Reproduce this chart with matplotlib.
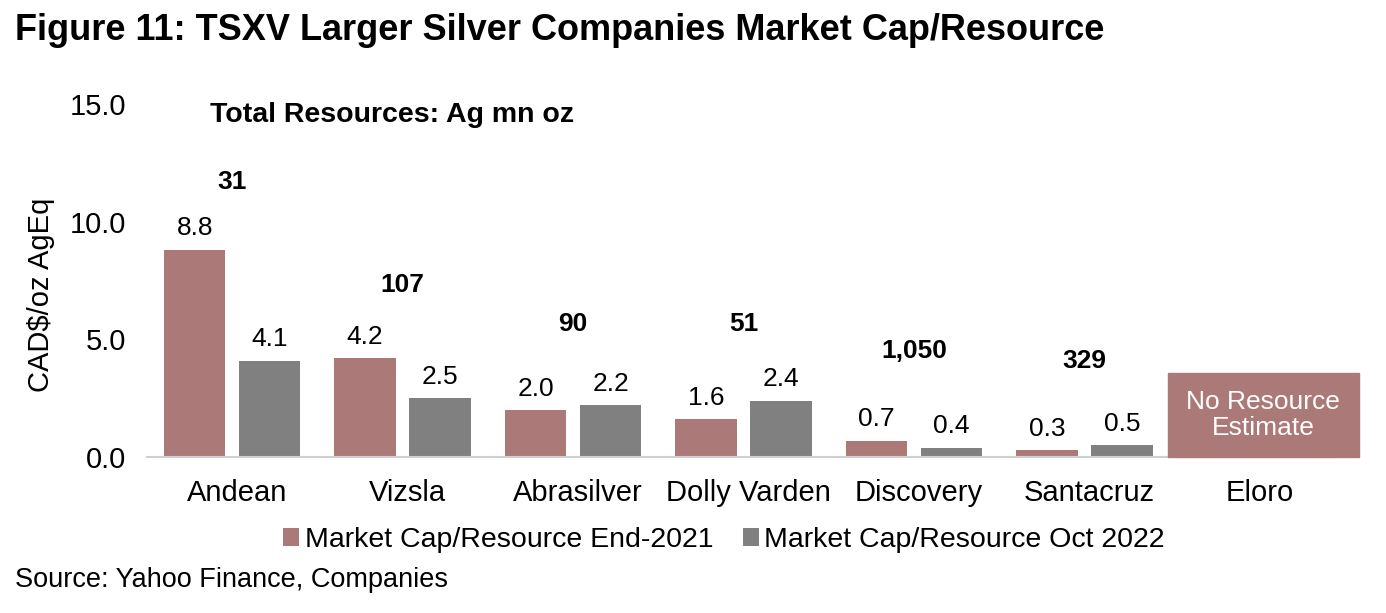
import numpy as np
import matplotlib.pyplot as plt
from matplotlib.patches import Rectangle

plt.rcParams['font.family'] = ['Liberation Sans', 'DejaVu Sans']

companies = ['Andean', 'Vizsla', 'Abrasilver', 'Dolly Varden', 'Discovery', 'Santacruz', 'Eloro']
end_2021 = [8.8, 4.2, 2.0, 1.6, 0.7, 0.3]
oct_2022 = [4.1, 2.5, 2.2, 2.4, 0.4, 0.5]
resources = ['31', '107', '90', '51', '1,050', '329']
resource_y = [11.7, 7.3, 5.65, 5.65, 4.5, 4.1]

red = '#AB7A78'
grey = '#808080'

fig = plt.figure(figsize=(13.86, 6.13), dpi=100)
ax = fig.add_axes([147/1386, 1-457/613, (1340-147)/1386, (457-104)/613])

x = np.arange(len(end_2021))
w = 0.36
off = 0.22
b1 = ax.bar(x - off, end_2021, w, color=red, label='Market Cap/Resource End-2021')
b2 = ax.bar(x + off, oct_2022, w, color=grey, label='Market Cap/Resource Oct 2022')
for bars, vals in ((b1, end_2021), (b2, oct_2022)):
    for b, v in zip(bars, vals):
        ax.text(b.get_x() + b.get_width()/2, v + 0.4, f'{v:.1f}', ha='center', va='bottom', fontsize=19)

for i, (r, yy) in enumerate(zip(resources, resource_y)):
    ax.text(i, yy, r, ha='center', va='center', fontsize=19, fontweight='bold')

# Eloro has no resource estimate
ax.add_patch(Rectangle((5.49, 0), 1.12, 3.57, color=red, clip_on=False, zorder=3))
ax.text(6.05, 1.8, 'No Resource\nEstimate', ha='center', va='center', color='white', fontsize=19,
        linespacing=1.1, zorder=4)

ax.text(0.053, 14.55/15, 'Total Resources: Ag mn oz', ha='left', va='center', fontsize=20.5,
        fontweight='bold', transform=ax.transAxes)

ax.set_xlim(-0.5, 6.5)
ax.set_ylim(0, 15)
ax.set_yticks([0, 5, 10, 15])
ax.set_yticklabels(['0.0', '5.0', '10.0', '15.0'])
ax.set_xticks(np.arange(len(companies)) + 0.03)
ax.set_xticklabels(companies)
ax.tick_params(axis='both', length=0, labelsize=21)
ax.tick_params(axis='x', pad=16)
ax.tick_params(axis='y', pad=15)
for s in ['top', 'right', 'left']:
    ax.spines[s].set_visible(False)
ax.spines['bottom'].set_color('#D0D0D0')
ax.spines['bottom'].set_linewidth(1.5)
ax.set_ylabel('CAD$/oz AgEq', fontsize=21)
ax.yaxis.set_label_coords(-0.077, 0.46)

fig.legend(loc='center', bbox_to_anchor=(724/1386, 1-540/613), ncol=2, frameon=False, fontsize=20.5,
           handlelength=0.55, handleheight=0.55, handletextpad=0.2, columnspacing=1.05)

fig.text(15/1386, 1-31/613, 'Figure 11: TSXV Larger Silver Companies Market Cap/Resource', fontsize=26,
         fontweight='bold', ha='left', va='center')
fig.text(15/1386, 1-580/613, 'Source: Yahoo Finance, Companies', fontsize=19.5, ha='left', va='center')

fig.savefig('out.png', dpi=100)
